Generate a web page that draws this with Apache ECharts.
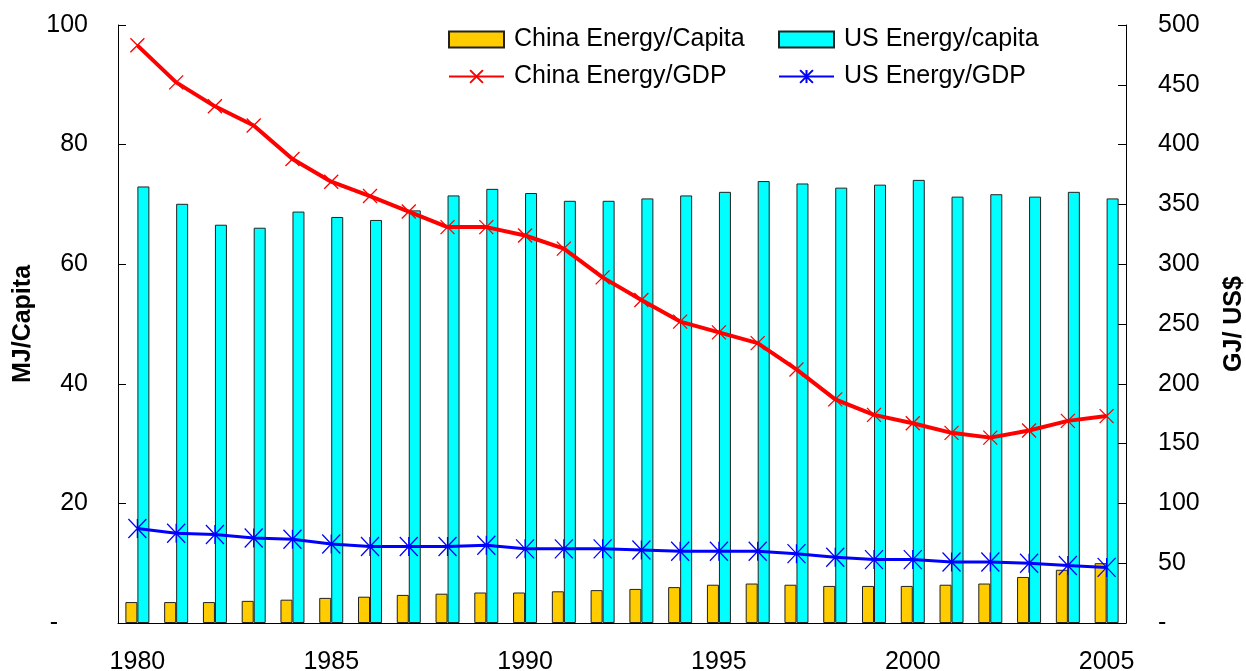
<!DOCTYPE html>
<html>
<head>
<meta charset="utf-8">
<script src="https://cdn.jsdelivr.net/npm/echarts@6/dist/echarts.min.js"></script>
<style>
  html, body { margin: 0; padding: 0; background: #fff; }
  #main { width: 1246px; height: 671px; }
</style>
</head>
<body>
<div id="main"></div>
<script>
// years on the x axis
var years = ['1980','1981','1982','1983','1984','1985','1986','1987','1988','1989','1990',
  '1991','1992','1993','1994','1995','1996','1997','1998','1999','2000','2001','2002','2003','2004','2005'];

// bars, left axis (MJ/Capita)
var chinaPerCapita = [3.5,3.5,3.5,3.7,3.9,4.2,4.4,4.7,4.9,5.1,5.1,5.3,5.5,5.7,6.0,6.4,6.6,6.4,6.2,6.2,6.2,6.4,6.6,7.7,8.9,10.0];
var usPerCapita = [73.0,70.1,66.6,66.1,68.8,67.9,67.4,69.0,71.5,72.6,71.9,70.6,70.6,71.0,71.5,72.1,73.9,73.5,72.8,73.3,74.1,71.3,71.7,71.3,72.1,71.0];

// lines, right axis (GJ/ US$)
var chinaPerGdp = [483,452,432,416,388,369,357,344,331,331,324,313,289,270,252,243,234,212,187,174,167,159,155,161,169,173];
var usPerGdp = [79,75,74,71,70,66,64,64,64,65,62,62,62,61,60,60,60,58,55,53,53,51,51,50,48,46.5];

var font = 'Liberation Sans, Arial, sans-serif';
var chart = echarts.init(document.getElementById('main'));

var legendText = { fontSize: 25, color: '#000', fontFamily: font, padding: [0, 0, 0, 5] };

chart.setOption({
  animation: false,
  textStyle: { fontFamily: font, color: '#000' },
  grid: { left: 118, right: 120, top: 25, bottom: 48, outerBoundsMode: 'none' },
  legend: [
    {
      orient: 'vertical', left: 448, top: 27, padding: 0, itemWidth: 55, itemHeight: 16, itemGap: 12,
      textStyle: legendText,
      data: [{ name: 'China Energy/Capita', icon: 'rect' }, { name: 'China Energy/GDP' }]
    },
    {
      orient: 'vertical', left: 778, top: 27, padding: 0, itemWidth: 55, itemHeight: 16, itemGap: 12,
      textStyle: legendText,
      data: [{ name: 'US Energy/capita', icon: 'rect' }, { name: 'US Energy/GDP' }]
    }
  ],
  xAxis: {
    type: 'category',
    data: years,
    axisLine: { lineStyle: { color: '#000', width: 1 } },
    axisTick: { inside: true, length: 7, interval: 4, lineStyle: { color: '#000' } },
    axisLabel: { interval: 4, fontSize: 25, color: '#000', margin: 27, fontFamily: font }
  },
  yAxis: [
    {
      type: 'value', min: 0, max: 100, interval: 20,
      name: 'MJ/Capita', nameLocation: 'middle', nameRotate: 90, nameGap: 82,
      nameTextStyle: { fontSize: 25, fontWeight: 'bold', color: '#000', fontFamily: font },
      splitLine: { show: false },
      axisLine: { show: true, lineStyle: { color: '#000' } },
      axisTick: { show: true, inside: true, length: 8, lineStyle: { color: '#000' } },
      axisLabel: {
        fontSize: 25, color: '#000', margin: 30, fontFamily: font,
        formatter: function (v) { return v === 0 ? '{d|-}' : String(v); },
        rich: { d: { fontSize: 25, padding: [0, 30, 0, 0], fontFamily: font, color: '#000' } }
      }
    },
    {
      type: 'value', min: 0, max: 500, interval: 50,
      name: 'GJ/ US$', nameLocation: 'middle', nameRotate: 90, nameGap: 96,
      nameTextStyle: { fontSize: 25, fontWeight: 'bold', color: '#000', fontFamily: font },
      splitLine: { show: false },
      axisLine: { show: true, lineStyle: { color: '#000' } },
      axisTick: { show: true, inside: true, length: 8, lineStyle: { color: '#000' } },
      axisLabel: {
        fontSize: 25, color: '#000', margin: 32, fontFamily: font,
        formatter: function (v) { return v === 0 ? '-' : String(v); }
      }
    }
  ],
  series: [
    {
      name: 'China Energy/Capita', type: 'bar', yAxisIndex: 0, data: chinaPerCapita,
      barWidth: 12, barGap: '0%',
      itemStyle: { color: '#FFCC00', borderColor: '#222', borderWidth: 1 }
    },
    {
      name: 'US Energy/capita', type: 'bar', yAxisIndex: 0, data: usPerCapita,
      barWidth: 12, barGap: '0%',
      itemStyle: { color: '#00FFFF', borderColor: '#222', borderWidth: 1 }
    },
    {
      name: 'China Energy/GDP', type: 'line', yAxisIndex: 1, data: chinaPerGdp, z: 5,
      symbol: 'path://M0,0L10,10M10,0L0,10', symbolSize: [14, 14],
      lineStyle: { color: '#FF0000', width: 4 },
      itemStyle: { color: 'rgba(0,0,0,0)', borderColor: '#FF0000', borderWidth: 1.3 }
    },
    {
      name: 'US Energy/GDP', type: 'line', yAxisIndex: 1, data: usPerGdp, z: 5,
      symbol: 'path://M0,0L10,10M10,0L0,10M5,0L5,10', symbolSize: [18, 19],
      lineStyle: { color: '#0000FF', width: 3 },
      itemStyle: { color: 'rgba(0,0,0,0)', borderColor: '#0000FF', borderWidth: 1.3 }
    }
  ]
});
</script>
</body>
</html>
